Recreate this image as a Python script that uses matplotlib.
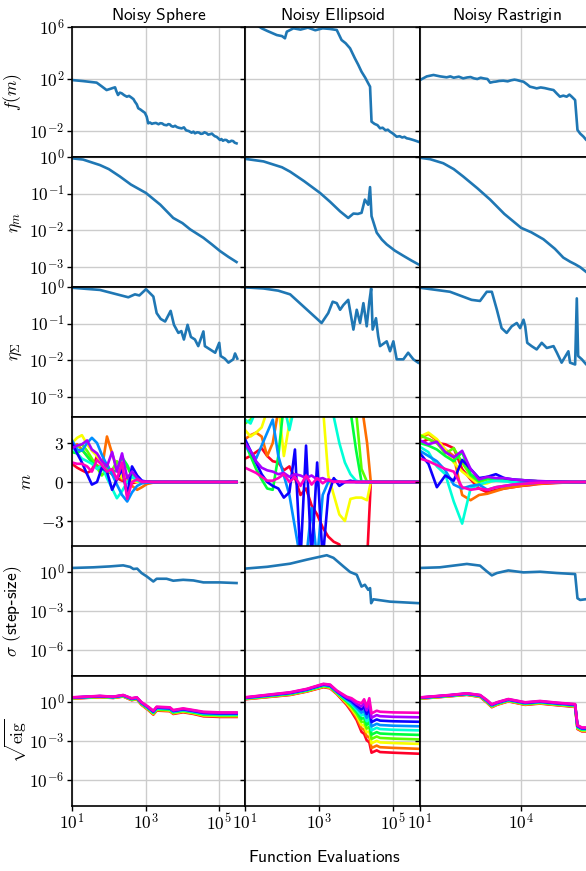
import matplotlib
matplotlib.use("Agg")
import matplotlib.pyplot as plt
import numpy as np
from matplotlib.ticker import FixedLocator, FuncFormatter, NullLocator

plt.rcParams['mathtext.fontset'] = 'cm'
plt.rcParams['font.family'] = ['DejaVu Sans']

titles = ['Noisy Sphere', 'Noisy Ellipsoid', 'Noisy Rastrigin']

# ---- data (x given as log10 of function evaluations, log values as log10) ----
# f(m)
sph_f_lx = [1.0, 1.3, 1.67, 1.8, 1.94, 2.05, 2.1, 2.17, 2.2, 2.25, 2.3, 2.35, 2.42, 2.49, 2.55, 2.62, 2.67,
            2.71, 2.76, 2.8, 2.86, 2.94, 2.98, 3.03, 3.07, 3.12, 3.17, 3.21, 3.28, 3.35, 3.4, 3.45, 3.5,
            3.57, 3.62, 3.66, 3.7, 3.75, 3.8, 3.85, 3.9, 3.98, 4.04, 4.1, 4.17, 4.25, 4.3, 4.34, 4.4, 4.45,
            4.5, 4.55, 4.6, 4.66, 4.7, 4.75, 4.8, 4.84, 4.88, 4.93, 4.97, 5.02, 5.06, 5.1, 5.15, 5.2, 5.25,
            5.29, 5.33, 5.38, 5.42, 5.47]
sph_f_ly = [1.92, 1.84, 1.72, 1.45, 1.15, 1.25, 1.3, 1.36, 1.1, 0.77, 0.95, 0.9, 0.75, 0.64, 0.7, 0.56,
            0.45, 0.25, 0.05, -0.25, -0.35, -0.52, -0.6, -0.9, -1.41, -1.35, -1.45, -1.41, -1.38, -1.48,
            -1.4, -1.42, -1.52, -1.56, -1.47, -1.5, -1.62, -1.67, -1.6, -1.7, -1.75, -1.8, -1.72, -1.95,
            -2.0, -2.13, -2.05, -2.18, -2.1, -2.12, -2.22, -2.2, -2.1, -2.18, -2.28, -2.25, -2.2, -2.31,
            -2.4, -2.45, -2.55, -2.69, -2.62, -2.75, -2.68, -2.7, -2.85, -2.82, -2.75, -2.78, -2.9, -2.95]
ell_f_lx = [1.0, 1.45, 1.6, 1.86, 2.0, 2.08, 2.13, 2.31, 2.5, 2.7, 2.9, 3.1, 3.3, 3.48, 3.61, 3.72,
            3.84, 3.97, 4.06, 4.15, 4.25, 4.33, 4.38, 4.42, 4.5, 4.58, 4.65, 4.72, 4.8, 4.86, 4.92, 5.0,
            5.1, 5.18, 5.25, 5.31, 5.37, 5.44, 5.5, 5.58, 5.68]
ell_f_ly = [6.8, 5.9, 5.7, 5.38, 5.3, 5.13, 5.64, 5.9, 5.8, 5.95, 5.75, 5.9, 5.85, 5.77, 5.0, 4.75,
            4.36, 3.59, 3.1, 2.56, 2.1, 1.67, 1.41, -1.28, -1.45, -1.55, -1.79, -1.75, -1.95, -1.9, -2.05,
            -2.2, -2.44, -2.4, -2.5, -2.45, -2.56, -2.6, -2.65, -2.72, -2.82]
ras_f_lx = [1.0, 1.2, 1.4, 1.6, 1.79, 1.9, 2.0, 2.15, 2.28, 2.4, 2.5, 2.6, 2.7, 2.8, 2.88, 3.0, 3.08,
            3.18, 3.25, 3.35, 3.47, 3.6, 3.7, 3.8, 3.87, 3.97, 4.07, 4.17, 4.26, 4.36, 4.46, 4.58, 4.7,
            4.83, 4.96, 5.05, 5.15, 5.25, 5.35, 5.43, 5.5, 5.6, 5.67, 5.75, 5.85, 5.93, 6.1]
ras_f_ly = [1.92, 2.2, 2.31, 2.2, 2.13, 2.2, 2.1, 2.18, 2.05, 2.12, 2.15, 2.05, 2.0, 2.1, 2.05, 2.0,
            1.72, 1.78, 1.8, 1.85, 1.87, 1.82, 1.9, 1.95, 1.92, 1.85, 1.79, 1.6, 1.41, 1.35, 1.28, 1.35,
            1.3, 1.22, 1.15, 0.9, 0.64, 0.72, 0.64, 0.8, 0.64, 0.38, -1.92, -2.2, -2.44, -2.69, -2.9]

# eta_m
sph_em_lx = [1.0, 1.3, 1.76, 2.0, 2.3, 2.6, 3.01, 3.4, 3.75, 4.0, 4.21, 4.57, 4.8, 5.02, 5.25, 5.47]
sph_em_ly = [-0.035, -0.07, -0.22, -0.33, -0.53, -0.75, -0.98, -1.3, -1.66, -1.8, -1.97, -2.2, -2.38,
             -2.56, -2.72, -2.86]
ell_em_lx = [1.0, 1.5, 2.0, 2.22, 2.6, 3.03, 3.3, 3.57, 3.79, 3.93, 4.05, 4.15, 4.24, 4.33, 4.38, 4.42,
             4.56, 4.7, 4.83, 5.05, 5.28, 5.5, 5.68]
ell_em_ly = [-0.05, -0.12, -0.28, -0.4, -0.66, -0.98, -1.22, -1.48, -1.66, -1.54, -1.55, -1.52, -1.16,
             -1.30, -0.82, -1.61, -2.06, -2.25, -2.38, -2.55, -2.69, -2.82, -2.92]
ras_em_lx = [1.0, 1.3, 1.69, 2.0, 2.28, 2.7, 3.08, 3.5, 4.0, 4.3, 4.66, 5.0, 5.25, 5.45, 5.6, 5.75, 5.93, 6.1]
ras_em_ly = [-0.02, -0.06, -0.17, -0.33, -0.53, -0.85, -1.16, -1.55, -1.93, -2.05, -2.24, -2.5, -2.74,
             -2.85, -2.92, -3.0, -3.13, -3.25]

# eta_Sigma
sph_es_lx = [1.0, 1.76, 2.53, 2.71, 2.83, 3.01, 3.12, 3.21, 3.3, 3.41, 3.53, 3.68, 3.77, 3.89, 3.97,
             4.04, 4.14, 4.23, 4.34, 4.43, 4.57, 4.61, 4.75, 4.89, 5.0, 5.04, 5.15, 5.25, 5.38, 5.43, 5.49]
sph_es_ly = [-0.02, -0.08, -0.28, -0.2, -0.23, -0.06, -0.17, -0.26, -0.71, -0.87, -0.94, -0.65, -1.03,
             -1.25, -1.2, -1.43, -1.03, -1.36, -1.43, -1.61, -1.21, -1.61, -1.70, -1.79, -1.52, -1.88,
             -1.95, -2.06, -1.97, -1.81, -1.95]
ell_es_lx = [1.0, 1.5, 1.9, 2.22, 2.58, 3.07, 3.25, 3.37, 3.48, 3.57, 3.66, 3.79, 3.93, 4.02, 4.11,
             4.2, 4.29, 4.36, 4.41, 4.45, 4.54, 4.6, 4.65, 4.83, 4.92, 5.01, 5.1, 5.28, 5.41, 5.55, 5.68]
ell_es_ly = [-0.01, -0.04, -0.1, -0.2, -0.53, -0.98, -0.71, -0.40, -0.44, -0.62, -0.49, -0.35, -1.16,
             -0.62, -0.98, -0.44, -1.07, -0.40, -0.04, -1.16, -0.85, -1.34, -1.61, -1.48, -1.75, -1.48,
             -1.97, -1.97, -1.79, -1.97, -2.06]
ras_es_lx = [1.0, 1.89, 2.53, 2.78, 2.98, 3.13, 3.28, 3.42, 3.57, 3.72, 3.87, 3.97, 4.07, 4.12, 4.18,
             4.31, 4.46, 4.61, 4.76, 4.96, 5.06, 5.2, 5.4, 5.45, 5.6, 5.65, 5.69, 5.8, 5.93, 6.1]
ras_es_ly = [-0.02, -0.13, -0.35, -0.38, -0.13, -0.13, -0.62, -1.12, -1.25, -1.07, -0.98, -1.12, -0.89,
             -1.07, -1.52, -1.61, -1.70, -1.52, -1.66, -1.61, -1.79, -2.06, -1.75, -2.06, -2.11, -0.31,
             -1.88, -1.97, -2.11, -2.05]

# m (10 coordinates, one grid of evaluations per problem)
sph_m_lx = [1.0, 1.14, 1.27, 1.41, 1.54, 1.68, 1.81, 1.95, 2.09, 2.22, 2.36, 2.5, 2.63, 2.77, 2.9, 3.04,
            3.2, 3.5, 4.0, 4.5, 5.0, 5.47]
sph_m = [
    [1.4, 1.1, 0.9, 0.7, 0.9, 2.0, 1.5, 0.9, 0.6, 0.3, 0.1, 0.0, -0.1, 0.0, 0.05, 0.0, 0.02, 0.0, 0.01, 0.0, 0.0, 0.0],
    [2.7, 2.9, 2.5, 2.0, 1.6, 1.3, 1.0, 3.5, 2.2, 1.0, 0.2, 0.3, -0.3, -0.6, -0.4, -0.15, -0.05, -0.02, 0.0, 0.0, 0.0, 0.0],
    [3.0, 3.4, 3.6, 2.9, 2.4, 2.0, 1.4, 0.7, 0.9, 1.2, 0.3, 0.5, 0.1, 0.0, 0.05, 0.02, 0.0, 0.01, 0.0, 0.0, 0.0, 0.0],
    [2.8, 2.7, 2.9, 2.4, 1.8, 1.1, 0.5, 1.0, 0.9, 1.6, 1.0, 1.2, 0.4, 0.2, 0.0, 0.03, 0.01, 0.0, 0.0, 0.0, 0.0, 0.0],
    [2.3, 2.2, 2.5, 2.0, 1.5, 1.2, 0.9, 1.4, 0.6, 1.0, 1.9, 1.3, 0.5, 0.1, 0.0, 0.04, 0.0, 0.0, 0.0, 0.0, 0.0, 0.0],
    [2.7, 2.2, 1.8, 1.6, 1.4, 1.0, 1.3, 0.3, -0.5, -1.25, -0.7, 0.0, 0.4, 0.1, 0.0, -0.03, 0.0, 0.0, 0.0, 0.0, 0.0, 0.0],
    [3.2, 2.5, 2.4, 3.0, 3.4, 3.0, 2.1, 1.3, 0.6, -0.2, -1.0, -1.5, -0.8, -0.3, -0.1, -0.05, 0.0, 0.0, 0.0, 0.0, 0.0, 0.0],
    [3.0, 2.2, 1.5, 0.6, -0.2, 0.0, 1.1, 0.8, -0.6, 0.2, 1.0, -1.0, 1.2, 0.5, 0.1, 0.02, 0.0, 0.0, 0.0, 0.0, 0.0, 0.0],
    [2.6, 2.8, 2.9, 3.2, 2.5, 2.2, 1.6, 1.2, 2.3, 0.8, 2.2, 0.3, 0.8, 0.3, 0.05, 0.03, 0.0, 0.01, 0.0, 0.0, 0.0, 0.0],
    [1.5, 1.4, 1.4, 1.2, 0.8, 1.7, 1.3, 0.8, 1.0, 0.2, 1.5, -1.3, 0.0, 0.2, 0.0, 0.02, 0.0, 0.0, 0.0, 0.0, 0.0, 0.0],
]
ell_m_lx = [1.0, 1.15, 1.3, 1.45, 1.6, 1.75, 1.9, 2.05, 2.2, 2.35, 2.5, 2.65, 2.8, 2.95, 3.1, 3.25, 3.4,
            3.55, 3.7, 3.85, 4.0, 4.15, 4.3, 4.4, 4.5, 5.0, 5.7]
ell_m = [
    [1.8, 2.0, 2.3, 2.6, 2.0, 1.6, 1.5, 0.9, 1.2, 0.3, -1.0, -0.5, -1.8, -2.5, -3.5, -4.2, -4.6, -4.8, -6, -6, -6, -6, -6, 0.0, 0.0, 0.0, 0.0],
    [3.3, 3.6, 3.8, 3.5, 2.0, 3.0, 5.5, 6, 6, 6, 6, 6, 6, 6, 6, 6, 6, 6, 6, 6, 6, 6, 3.0, 0.0, 0.0, 0.0, 0.0],
    [4.0, 3.5, 3.8, 4.2, 5.5, 6, 6, 2.0, 4.5, 6, 6, 6, 6, 6, 6, 0.5, -1.0, -2.5, -3.0, -1.3, -1.2, -1.2, -1.4, 0.0, 0.0, 0.0, 0.0],
    [4.5, 4.8, 5.5, 6, 6, 6, 6, 6, 6, 6, 6, 6, 6, 6, 6, 6, 6, 6, 6, 6, 5.5, 1.0, 0.0, 0.0, 0.0, 0.0, 0.0],
    [3.0, 2.0, 1.0, 0.2, -0.5, -0.6, 2.0, 6, 6, 6, 6, 6, 6, 6, 6, 6, 6, 6, 6, 5.5, 2.5, 0.0, 0.0, 0.0, 0.0, 0.0, 0.0],
    [4.8, 4.5, 5.5, 6, 6, 6, 6, 6, 4.0, 6, 6, 6, 6, 6, 6, 6, 5.0, 3.0, 1.5, 0.6, 0.1, 0.0, 0.0, 0.0, 0.0, 0.0, 0.0],
    [2.8, 2.3, 1.8, 2.8, 3.8, 4.8, 2.0, 0.5, -1.0, -3.5, -6, -6, -2.0, -6, -1.0, 0.0, 0.2, 0.0, 0.0, 0.0, 0.0, 0.0, 0.0, 0.0, 0.0, 0.0, 0.0],
    [3.3, 2.4, 1.5, 0.6, 0.0, -0.3, -0.5, -1.2, -0.8, 2.5, -6, 2.8, -6, 1.5, -6, -1.0, 0.3, -0.3, 0.0, 0.1, 0.0, 0.0, 0.0, 0.0, 0.0, 0.0, 0.0],
    [3.0, 2.4, 1.6, 1.1, 0.9, 0.8, 0.6, 0.7, 0.4, 0.6, 0.5, 0.3, 0.5, 0.2, 0.3, 0.1, 0.05, 0.0, 0.0, 0.0, 0.0, 0.0, 0.0, 0.0, 0.0, 0.0, 0.0],
    [1.1, 0.9, 0.7, 0.4, 0.1, 0.1, 0.3, 0.6, 0.0, 0.4, -0.3, 0.5, -0.2, 0.3, -0.1, 0.2, 0.0, 0.05, 0.0, 0.0, 0.0, 0.0, 0.0, 0.0, 0.0, 0.0, 0.0],
]
ras_m_lx = [1.0, 1.25, 1.5, 1.75, 2.0, 2.25, 2.5, 2.75, 3.0, 3.25, 3.5, 3.75, 4.0, 4.25, 4.5, 4.75, 5.0,
            5.25, 5.5, 5.75, 5.93, 6.1]
ras_m = [
    [3.0, 3.3, 3.0, 2.9, 2.6, 1.0, 0.2, -0.5, -0.8, -0.6, -0.5, -0.4, -0.3, -0.25, -0.15, -0.12, -0.08, -0.05, -0.03, -0.02, 0.0, 0.0],
    [3.4, 3.7, 3.2, 2.5, 2.0, -1.0, -1.4, -1.0, -0.9, -0.7, -0.5, -0.4, -0.3, -0.2, -0.15, -0.1, -0.06, -0.04, -0.02, 0.0, 0.0, 0.0],
    [3.5, 3.8, 3.3, 2.5, 1.5, 0.8, 0.3, -0.2, -0.1, 0.2, 0.1, 0.05, 0.1, 0.0, 0.05, 0.0, 0.02, 0.0, 0.0, 0.0, 0.0, 0.0],
    [3.6, 3.3, 3.0, 2.2, 2.6, 1.5, 0.5, 0.0, 0.2, 0.15, 0.2, 0.1, 0.15, 0.1, 0.05, 0.05, 0.02, 0.01, 0.0, 0.0, 0.0, 0.0],
    [3.0, 2.8, 2.5, 2.0, 1.6, 2.3, 0.6, 0.1, 0.3, 0.2, 0.25, 0.15, 0.1, 0.1, 0.05, 0.05, 0.03, 0.02, 0.01, 0.0, 0.0, 0.0],
    [2.7, 2.3, 1.2, 0.6, -1.5, -3.2, -0.5, -0.2, 0.0, 0.1, 0.05, 0.0, -0.05, 0.0, 0.0, 0.0, 0.0, 0.0, 0.0, 0.0, 0.0, 0.0],
    [2.4, 2.0, 1.6, 0.9, -0.2, -0.5, -0.3, -0.2, -0.6, -0.4, -0.3, -0.2, -0.1, -0.1, -0.05, -0.03, -0.02, -0.01, 0.0, 0.0, 0.0, 0.0],
    [2.2, 1.4, -0.4, 0.5, 0.1, 1.7, 1.0, 0.3, 0.4, 0.6, 0.3, 0.2, 0.15, 0.1, 0.05, 0.03, 0.02, 0.01, 0.0, 0.0, 0.0, 0.0],
    [3.2, 2.9, 3.1, 2.3, 1.9, 2.4, 1.0, 0.2, 0.4, 0.3, 0.3, 0.2, 0.15, 0.1, 0.08, 0.05, 0.03, 0.02, 0.01, 0.0, 0.0, 0.0],
    [1.8, 1.6, 1.3, 1.0, 0.8, -0.4, -0.6, -0.5, -0.6, -0.4, -0.3, -0.2, -0.15, -0.1, -0.06, -0.04, -0.02, -0.01, 0.0, 0.0, 0.0, 0.0],
]

# sigma
sph_s_lx = [1.0, 1.58, 2.03, 2.39, 2.58, 2.67, 2.77, 2.89, 3.03, 3.21, 3.3, 3.57, 3.75, 4.02, 4.3, 4.57, 5.02, 5.47]
sph_s_ly = [0.31, 0.36, 0.43, 0.51, 0.39, 0.23, 0.26, -0.08, -0.34, -0.73, -0.52, -0.52, -0.67, -0.6, -0.65,
            -0.8, -0.8, -0.85]
ell_s_lx = [1.0, 1.6, 2.04, 2.22, 2.67, 3.21, 3.39, 3.66, 3.84, 4.02, 4.15, 4.24, 4.33, 4.38, 4.41, 4.47,
            4.92, 5.71]
ell_s_ly = [0.26, 0.4, 0.57, 0.64, 0.95, 1.29, 1.09, 0.43, 0.0, -0.21, -1.12, -0.98, -1.37, -1.24, -2.4,
            -2.1, -2.28, -2.4]
ras_s_lx = [1.0, 1.59, 2.39, 2.78, 2.98, 3.13, 3.28, 3.62, 4.07, 4.56, 5.06, 5.6, 5.67, 5.75, 5.93, 6.1]
ras_s_ly = [0.31, 0.36, 0.62, 0.49, 0.05, -0.26, -0.08, 0.12, -0.03, 0.02, -0.08, -0.16, -2.02, -2.15,
            -2.09, -2.1]

# sqrt(eig): top (last) eigenvalue curve and total spread down to the first one
sph_eig_lx = [1.0, 1.76, 2.12, 2.39, 2.62, 2.76, 2.89, 3.07, 3.21, 3.3, 3.66, 3.75, 4.02, 4.3, 4.57, 5.02, 5.47]
sph_eig_top = [0.36, 0.47, 0.41, 0.54, 0.29, 0.36, -0.02, -0.36, -0.67, -0.36, -0.41, -0.62, -0.49, -0.62,
               -0.75, -0.8, -0.8]
sph_eig_spread = [0.1, 0.1, 0.1, 0.12, 0.15, 0.15, 0.2, 0.25, 0.3, 0.3, 0.3, 0.3, 0.3, 0.3, 0.35, 0.35, 0.35]
ell_eig_lx = [1.0, 2.22, 2.67, 3.12, 3.3, 3.48, 3.75, 3.88, 4.02, 4.15, 4.22, 4.29, 4.36, 4.42, 4.56, 4.65,
              5.0, 5.71]
ell_eig_top = [0.36, 0.75, 1.01, 1.4, 1.34, 0.88, 0.41, 0.29, 0.02, -0.1, 0.21, -0.36, 0.29, -0.88, -0.67,
               -0.75, -0.8, -0.83]
ell_eig_spread = [0.15, 0.21, 0.21, 0.26, 0.29, 0.26, 0.64, 1.04, 1.42, 2.2, 2.66, 2.59, 3.39, 3.02, 3.05,
                  3.1, 3.1, 3.15]
ras_eig_lx = [1.03, 1.89, 2.39, 2.78, 2.98, 3.13, 3.28, 3.62, 4.12, 4.56, 5.06, 5.6, 5.67, 5.8, 5.93, 6.1]
ras_eig_top = [0.36, 0.54, 0.67, 0.54, 0.16, -0.18, -0.02, 0.23, -0.02, 0.08, -0.05, -0.16, -1.78, -1.96,
               -1.96, -1.97]
ras_eig_spread = [0.1, 0.1, 0.12, 0.15, 0.2, 0.22, 0.2, 0.18, 0.2, 0.2, 0.2, 0.22, 0.3, 0.3, 0.3, 0.3]
eig_frac = [0.0, 0.12, 0.24, 0.35, 0.46, 0.57, 0.67, 0.78, 0.89, 1.0]

problems = [
    dict(f=(sph_f_lx, sph_f_ly), em=(sph_em_lx, sph_em_ly), es=(sph_es_lx, sph_es_ly),
         m=(sph_m_lx, sph_m), s=(sph_s_lx, sph_s_ly), eig=(sph_eig_lx, sph_eig_top, sph_eig_spread)),
    dict(f=(ell_f_lx, ell_f_ly), em=(ell_em_lx, ell_em_ly), es=(ell_es_lx, ell_es_ly),
         m=(ell_m_lx, ell_m), s=(ell_s_lx, ell_s_ly), eig=(ell_eig_lx, ell_eig_top, ell_eig_spread)),
    dict(f=(ras_f_lx, ras_f_ly), em=(ras_em_lx, ras_em_ly), es=(ras_es_lx, ras_es_ly),
         m=(ras_m_lx, ras_m), s=(ras_s_lx, ras_s_ly), eig=(ras_eig_lx, ras_eig_top, ras_eig_spread)),
]

# ---- layout (pixels) ----
W, H = 586, 871
col_left = [72, 245, 420]
col_w = [173, 175, 174]
row_top = [27, 157, 287, 417, 546, 676]
row_h = 130
xlims = [(1e1, 10 ** 5.7), (1e1, 10 ** 5.73), (1e1, 10 ** 6.16)]
xticks = [[1e1, 1e3, 1e5], [1e1, 1e3, 1e5], [1e1, 1e4]]

ylabels = [r'$f(m)$', r'$\eta_m$', r'$\eta_\Sigma$', r'$m$', r'$\sigma$ $\mathsf{(step}$-$\mathsf{size)}$',
           r'$\sqrt{\mathrm{eig}}$']
ylabel_pad = [4, 4, 4, 4, 4, 0]
ylims = [(1e-4, 1e6), (10 ** -3.54, 1), (10 ** -3.54, 1), (-5, 5), (1e-8, 1e2), (1e-8, 1e2)]
yticks = [[1e-2, 1e2, 1e6], [1e-3, 1e-2, 1e-1, 1e0], [1e-3, 1e-2, 1e-1, 1e0], [-3, 0, 3],
          [1e-6, 1e-3, 1e0], [1e-6, 1e-3, 1e0]]

blue = '#1f77b4'
colors = plt.cm.gist_rainbow(np.linspace(0, 1, 10))
logfmt = FuncFormatter(lambda v, p: r'$10^{%d}$' % int(round(np.log10(v))))
linfmt = FuncFormatter(lambda v, p: r'$%d$' % v if v >= 0 else r'$-%d$' % -v)
LW = 1.9

fig = plt.figure(figsize=(W / 100, H / 100), dpi=100)

for c, prob in enumerate(problems):
    for r in range(6):
        ax = fig.add_axes([col_left[c] / W, (H - row_top[r] - row_h) / H, col_w[c] / W, row_h / H])
        ax.set_xscale('log')
        if r != 3:
            ax.set_yscale('log')
        if r in (0, 1, 2, 4):
            key = ['f', 'em', 'es', None, 's'][r]
            lx, ly = prob[key]
            ax.plot(10 ** np.array(lx), 10 ** np.array(ly), color=blue, lw=LW)
        elif r == 3:
            lx, ms = prob['m']
            for i, mv in enumerate(ms):
                ax.plot(10 ** np.array(lx), mv, color=colors[i], lw=LW)
        else:
            lx, top, spread = prob['eig']
            top = np.array(top)
            spread = np.array(spread)
            for i, fr in enumerate(eig_frac):
                ax.plot(10 ** np.array(lx), 10 ** (top - spread * (1 - fr)), color=colors[i], lw=LW)

        ax.set_xlim(*xlims[c])
        ax.set_ylim(*ylims[r])
        ax.xaxis.set_major_locator(FixedLocator(xticks[c]))
        ax.xaxis.set_minor_locator(NullLocator())
        ax.yaxis.set_major_locator(FixedLocator(yticks[r]))
        ax.yaxis.set_minor_locator(NullLocator())
        ax.xaxis.set_major_formatter(logfmt)
        ax.yaxis.set_major_formatter(linfmt if r == 3 else logfmt)
        ax.grid(True, color='#cccccc', lw=1.0)
        ax.set_axisbelow(True)
        for sp in ax.spines.values():
            sp.set_linewidth(1.2)
            sp.set_color('black')
        ax.tick_params(direction='out', length=3.5, width=1.0, labelsize=12.5, pad=2)
        if r != 5:
            ax.tick_params(labelbottom=False)
        if c != 0:
            ax.tick_params(labelleft=False)
        else:
            ax.set_ylabel(ylabels[r], fontsize=12.5, labelpad=ylabel_pad[r])
        if r == 0:
            ax.set_title(r'$\mathsf{%s}$' % titles[c].replace(' ', r'\ '), fontsize=12.5, pad=5)

fig.text(325 / W, 1 - 857 / H, r'$\mathsf{Function\ Evaluations}$', ha='center', va='center', fontsize=12.5)

fig.savefig('out.png', dpi=100)
